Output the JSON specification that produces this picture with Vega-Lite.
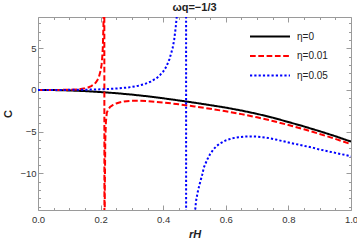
{
  "$schema": "https://vega.github.io/schema/vega-lite/v6.json",
  "width": 313,
  "height": 193,
  "autosize": {"type": "none"},
  "padding": {"left": 38, "top": 17, "right": 6, "bottom": 35},
  "background": "white",
  "title": {"text": "ωq=−1/3", "fontSize": 11, "font": "Liberation Sans", "fontWeight": "bold", "offset": 4, "anchor": "middle", "color": "#222"},
  "config": {
    "view": {"stroke": "#9a9a9a", "strokeWidth": 1},
    "axis": {"labelFont": "Liberation Sans", "titleFont": "Liberation Sans", "labelColor": "#333", "titleColor": "#222", "tickColor": "#9a9a9a", "domain": false, "grid": false}
  },
  "data": {"values": [
    {"eta": "η=0", "r": 0, "C": 0},
    {"eta": "η=0", "r": 0.05, "C": -0.015},
    {"eta": "η=0", "r": 0.1, "C": -0.06},
    {"eta": "η=0", "r": 0.15, "C": -0.14},
    {"eta": "η=0", "r": 0.2, "C": -0.25},
    {"eta": "η=0", "r": 0.25, "C": -0.39},
    {"eta": "η=0", "r": 0.3, "C": -0.56},
    {"eta": "η=0", "r": 0.35, "C": -0.76},
    {"eta": "η=0", "r": 0.4, "C": -1.0},
    {"eta": "η=0", "r": 0.45, "C": -1.26},
    {"eta": "η=0", "r": 0.5, "C": -1.53},
    {"eta": "η=0", "r": 0.55, "C": -1.82},
    {"eta": "η=0", "r": 0.6, "C": -2.12},
    {"eta": "η=0", "r": 0.65, "C": -2.47},
    {"eta": "η=0", "r": 0.7, "C": -2.87},
    {"eta": "η=0", "r": 0.75, "C": -3.32},
    {"eta": "η=0", "r": 0.8, "C": -3.85},
    {"eta": "η=0", "r": 0.85, "C": -4.38},
    {"eta": "η=0", "r": 0.9, "C": -4.95},
    {"eta": "η=0", "r": 0.95, "C": -5.55},
    {"eta": "η=0", "r": 1.0, "C": -6.2},

    {"eta": "η=0.01", "r": 0, "C": 0},
    {"eta": "η=0.01", "r": 0.05, "C": 0},
    {"eta": "η=0.01", "r": 0.1, "C": 0.02},
    {"eta": "η=0.01", "r": 0.13, "C": 0.08},
    {"eta": "η=0.01", "r": 0.15, "C": 0.2},
    {"eta": "η=0.01", "r": 0.16, "C": 0.3},
    {"eta": "η=0.01", "r": 0.17, "C": 0.45},
    {"eta": "η=0.01", "r": 0.18, "C": 0.7},
    {"eta": "η=0.01", "r": 0.185, "C": 0.9},
    {"eta": "η=0.01", "r": 0.19, "C": 1.2},
    {"eta": "η=0.01", "r": 0.195, "C": 1.6},
    {"eta": "η=0.01", "r": 0.2, "C": 2.3},
    {"eta": "η=0.01", "r": 0.203, "C": 3.0},
    {"eta": "η=0.01", "r": 0.205, "C": 3.8},
    {"eta": "η=0.01", "r": 0.207, "C": 5.0},
    {"eta": "η=0.01", "r": 0.209, "C": 7.5},
    {"eta": "η=0.01", "r": 0.2105, "C": 12},
    {"eta": "η=0.01", "r": 0.2115, "C": 40},
    {"eta": "η=0.01", "r": 0.2125, "C": -40},
    {"eta": "η=0.01", "r": 0.2135, "C": -12},
    {"eta": "η=0.01", "r": 0.215, "C": -6},
    {"eta": "η=0.01", "r": 0.217, "C": -3.8},
    {"eta": "η=0.01", "r": 0.22, "C": -2.7},
    {"eta": "η=0.01", "r": 0.225, "C": -2.3},
    {"eta": "η=0.01", "r": 0.23, "C": -2.05},
    {"eta": "η=0.01", "r": 0.24, "C": -1.8},
    {"eta": "η=0.01", "r": 0.25, "C": -1.62},
    {"eta": "η=0.01", "r": 0.26, "C": -1.5},
    {"eta": "η=0.01", "r": 0.275, "C": -1.38},
    {"eta": "η=0.01", "r": 0.3, "C": -1.3},
    {"eta": "η=0.01", "r": 0.325, "C": -1.3},
    {"eta": "η=0.01", "r": 0.35, "C": -1.35},
    {"eta": "η=0.01", "r": 0.4, "C": -1.5},
    {"eta": "η=0.01", "r": 0.45, "C": -1.72},
    {"eta": "η=0.01", "r": 0.5, "C": -1.98},
    {"eta": "η=0.01", "r": 0.55, "C": -2.26},
    {"eta": "η=0.01", "r": 0.6, "C": -2.56},
    {"eta": "η=0.01", "r": 0.65, "C": -2.9},
    {"eta": "η=0.01", "r": 0.7, "C": -3.28},
    {"eta": "η=0.01", "r": 0.75, "C": -3.72},
    {"eta": "η=0.01", "r": 0.8, "C": -4.2},
    {"eta": "η=0.01", "r": 0.85, "C": -4.72},
    {"eta": "η=0.01", "r": 0.9, "C": -5.28},
    {"eta": "η=0.01", "r": 0.95, "C": -5.87},
    {"eta": "η=0.01", "r": 1.0, "C": -6.5},

    {"eta": "η=0.05", "r": 0, "C": 0},
    {"eta": "η=0.05", "r": 0.05, "C": 0},
    {"eta": "η=0.05", "r": 0.1, "C": 0.01},
    {"eta": "η=0.05", "r": 0.15, "C": 0.03},
    {"eta": "η=0.05", "r": 0.2, "C": 0.07},
    {"eta": "η=0.05", "r": 0.25, "C": 0.17},
    {"eta": "η=0.05", "r": 0.28, "C": 0.27},
    {"eta": "η=0.05", "r": 0.3, "C": 0.36},
    {"eta": "η=0.05", "r": 0.32, "C": 0.5},
    {"eta": "η=0.05", "r": 0.34, "C": 0.7},
    {"eta": "η=0.05", "r": 0.36, "C": 1.0},
    {"eta": "η=0.05", "r": 0.38, "C": 1.45},
    {"eta": "η=0.05", "r": 0.39, "C": 1.8},
    {"eta": "η=0.05", "r": 0.4, "C": 2.2},
    {"eta": "η=0.05", "r": 0.41, "C": 2.8},
    {"eta": "η=0.05", "r": 0.42, "C": 3.7},
    {"eta": "η=0.05", "r": 0.43, "C": 5.0},
    {"eta": "η=0.05", "r": 0.435, "C": 6.0},
    {"eta": "η=0.05", "r": 0.44, "C": 7.5},
    {"eta": "η=0.05", "r": 0.445, "C": 9.5},
    {"eta": "η=0.05", "r": 0.45, "C": 12},
    {"eta": "η=0.05", "r": 0.46, "C": 20},
    {"eta": "η=0.05", "r": 0.468, "C": 40},
    {"eta": "η=0.05", "r": 0.4728, "C": 150},
    {"eta": "η=0.05", "r": 0.4735, "C": -150},
    {"eta": "η=0.05", "r": 0.478, "C": -50},
    {"eta": "η=0.05", "r": 0.485, "C": -28},
    {"eta": "η=0.05", "r": 0.49, "C": -22},
    {"eta": "η=0.05", "r": 0.495, "C": -18},
    {"eta": "η=0.05", "r": 0.5, "C": -15.3},
    {"eta": "η=0.05", "r": 0.505, "C": -13.3},
    {"eta": "η=0.05", "r": 0.51, "C": -12.3},
    {"eta": "η=0.05", "r": 0.515, "C": -11.5},
    {"eta": "η=0.05", "r": 0.52, "C": -10.8},
    {"eta": "η=0.05", "r": 0.525, "C": -10.1},
    {"eta": "η=0.05", "r": 0.53, "C": -9.3},
    {"eta": "η=0.05", "r": 0.54, "C": -8.4},
    {"eta": "η=0.05", "r": 0.55, "C": -7.7},
    {"eta": "η=0.05", "r": 0.56, "C": -7.15},
    {"eta": "η=0.05", "r": 0.57, "C": -6.75},
    {"eta": "η=0.05", "r": 0.58, "C": -6.45},
    {"eta": "η=0.05", "r": 0.6, "C": -6.05},
    {"eta": "η=0.05", "r": 0.62, "C": -5.8},
    {"eta": "η=0.05", "r": 0.64, "C": -5.68},
    {"eta": "η=0.05", "r": 0.66, "C": -5.6},
    {"eta": "η=0.05", "r": 0.68, "C": -5.58},
    {"eta": "η=0.05", "r": 0.7, "C": -5.6},
    {"eta": "η=0.05", "r": 0.73, "C": -5.72},
    {"eta": "η=0.05", "r": 0.76, "C": -5.95},
    {"eta": "η=0.05", "r": 0.8, "C": -6.3},
    {"eta": "η=0.05", "r": 0.85, "C": -6.7},
    {"eta": "η=0.05", "r": 0.88, "C": -6.95},
    {"eta": "η=0.05", "r": 0.9, "C": -7.15},
    {"eta": "η=0.05", "r": 0.95, "C": -7.55},
    {"eta": "η=0.05", "r": 1.0, "C": -7.95}
  ]},
  "layer": [
    {
      "mark": {"type": "line", "clip": true, "strokeWidth": 2},
      "encoding": {
        "x": {"field": "r", "type": "quantitative", "scale": {"domain": [0, 1], "nice": false, "zero": false},
          "axis": {"orient": "bottom", "values": [0, 0.2, 0.4, 0.6, 0.8, 1], "format": ".1f", "tickSize": -5, "labelPadding": 9, "labelFontSize": 9.5, "labelFlush": false,
            "title": "rH", "titleFontSize": 11, "titleFontStyle": "italic", "titleFontWeight": "bold", "titlePadding": 5}},
        "y": {"field": "C", "type": "quantitative", "scale": {"domain": [-14.4, 8.75], "nice": false, "zero": false},
          "axis": {"orient": "left", "values": [-10, -5, 0, 5], "tickSize": -5, "labelPadding": 7, "labelFontSize": 9.5,
            "title": "C", "titleFontSize": 11, "titleFontWeight": "bold", "titlePadding": 6}},
        "color": {"field": "eta", "type": "nominal",
          "scale": {"domain": ["η=0", "η=0.01", "η=0.05"], "range": ["#000000", "#ff0000", "#0000ff"]},
          "legend": {"orient": "none", "legendX": 226, "legendY": 13.5, "title": null, "symbolType": "M-4,0H4", "symbolSize": 100, "symbolStrokeWidth": 2,
            "labelFontSize": 10, "labelFont": "Liberation Sans", "labelColor": "#222", "labelOffset": 21, "rowPadding": 8.5, "padding": 0}},
        "strokeDash": {"field": "eta", "type": "nominal",
          "scale": {"domain": ["η=0", "η=0.01", "η=0.05"], "range": [[1, 0], [5.7, 2.6], [2.2, 2.1]]},
          "legend": {"orient": "none", "legendX": 226, "legendY": 13.5, "title": null, "symbolType": "M-4,0H4", "symbolSize": 100, "symbolStrokeWidth": 2,
            "labelFontSize": 10, "labelFont": "Liberation Sans", "labelColor": "#222", "labelOffset": 21, "rowPadding": 8.5, "padding": 0}}
      }
    },
    {
      "mark": {"type": "line", "opacity": 0, "clip": true},
      "encoding": {
        "x": {"field": "r", "type": "quantitative", "scale": {"domain": [0, 1], "nice": false, "zero": false},
          "axis": {"orient": "bottom", "values": [0.05, 0.1, 0.15, 0.25, 0.3, 0.35, 0.45, 0.5, 0.55, 0.65, 0.7, 0.75, 0.85, 0.9, 0.95], "tickSize": -2.5, "labels": false, "title": null}},
        "y": {"field": "C", "type": "quantitative", "scale": {"domain": [-14.4, 8.75], "nice": false, "zero": false},
          "axis": {"orient": "left", "values": [-14, -13, -12, -11, -9, -8, -7, -6, -4, -3, -2, -1, 1, 2, 3, 4, 6, 7, 8], "tickSize": -2.5, "labels": false, "title": null}},
        "detail": {"field": "eta"}
      }
    },
    {
      "mark": {"type": "line", "opacity": 0, "clip": true},
      "encoding": {
        "x": {"field": "r", "type": "quantitative", "scale": {"domain": [0, 1], "nice": false, "zero": false},
          "axis": {"orient": "top", "values": [0, 0.2, 0.4, 0.6, 0.8, 1], "tickSize": -5, "labels": false, "title": null}},
        "y": {"field": "C", "type": "quantitative", "scale": {"domain": [-14.4, 8.75], "nice": false, "zero": false},
          "axis": {"orient": "right", "values": [-10, -5, 0, 5], "tickSize": -5, "labels": false, "title": null}},
        "detail": {"field": "eta"}
      }
    },
    {
      "mark": {"type": "line", "opacity": 0, "clip": true},
      "encoding": {
        "x": {"field": "r", "type": "quantitative", "scale": {"domain": [0, 1], "nice": false, "zero": false},
          "axis": {"orient": "top", "values": [0.05, 0.1, 0.15, 0.25, 0.3, 0.35, 0.45, 0.5, 0.55, 0.65, 0.7, 0.75, 0.85, 0.9, 0.95], "tickSize": -2.5, "labels": false, "title": null}},
        "y": {"field": "C", "type": "quantitative", "scale": {"domain": [-14.4, 8.75], "nice": false, "zero": false},
          "axis": {"orient": "right", "values": [-14, -13, -12, -11, -9, -8, -7, -6, -4, -3, -2, -1, 1, 2, 3, 4, 6, 7, 8], "tickSize": -2.5, "labels": false, "title": null}},
        "detail": {"field": "eta"}
      }
    }
  ],
  "resolve": {"axis": {"x": "independent", "y": "independent"}}
}
